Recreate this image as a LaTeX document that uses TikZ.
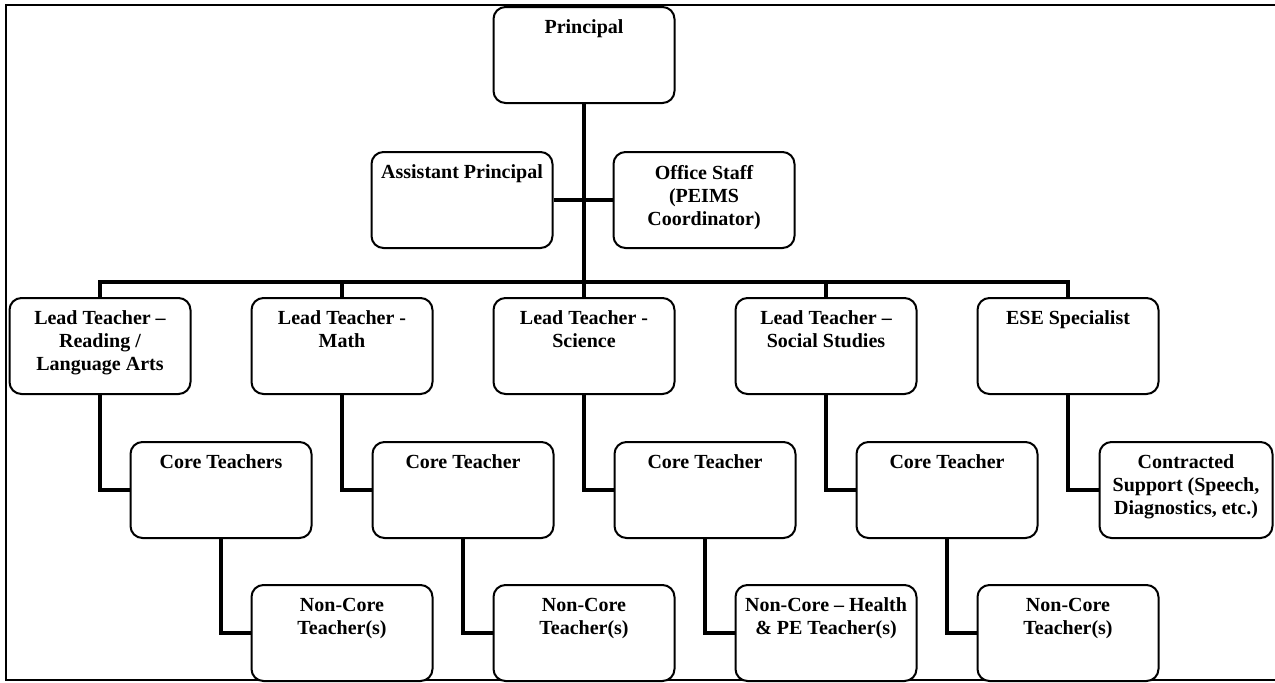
\documentclass[tikz,border=0pt]{standalone}
\usepackage{fontspec}
\setmainfont{Liberation Serif}
\usepackage{tikz}

% text set at the top of a box
\newcommand{\orgtext}[2][181]{\parbox[c][96pt][t]{\dimexpr#1pt-12pt\relax}{\centering\vspace*{13pt}#2}}

\begin{document}
\begin{tikzpicture}[x=1pt, y=-1pt,
  orgbox/.style={draw, line width=2pt, rounded corners=12pt, fill=white, inner xsep=6pt, inner ysep=0pt,
    minimum width=181pt, font=\fontsize{20}{23}\selectfont\bfseries},
  conn/.style={line width=4pt},
  frameline/.style={line width=1.5pt}]
\useasboundingbox (0,0) rectangle (1275,683);
\draw[frameline] (1275,5) -- (6,5) -- (6,680) -- (1275,680);

\node[orgbox] (prin) at (584,55) {\orgtext{Principal}};
\node[orgbox] (asst) at (462,200) {\orgtext{Assistant Principal}};
\node[orgbox] (office) at (704,200) {\orgtext{Office Staff\\(PEIMS\\Coordinator)}};

\node[orgbox] (lread) at (100,346) {\orgtext{Lead Teacher --\\Reading /\\Language Arts}};
\node[orgbox] (lmath) at (342,346) {\orgtext{Lead Teacher -\\Math}};
\node[orgbox] (lsci) at (584,346) {\orgtext{Lead Teacher -\\Science}};
\node[orgbox] (lsoc) at (826,346) {\orgtext{Lead Teacher --\\Social Studies}};
\node[orgbox] (lese) at (1068,346) {\orgtext{ESE Specialist}};

\node[orgbox] (core1) at (221,490) {\orgtext{Core Teachers}};
\node[orgbox] (core2) at (463,490) {\orgtext{Core Teacher}};
\node[orgbox] (core3) at (705,490) {\orgtext{Core Teacher}};
\node[orgbox] (core4) at (947,490) {\orgtext{Core Teacher}};
\node[orgbox, minimum width=173pt] (contract) at (1186,490) {\orgtext[173]{Contracted\\Support (Speech,\\Diagnostics, etc.)}};

\node[orgbox] (non1) at (342,633) {\orgtext{Non-Core\\Teacher(s)}};
\node[orgbox] (non2) at (584,633) {\orgtext{Non-Core\\Teacher(s)}};
\node[orgbox] (non3) at (826,633) {\orgtext{Non-Core -- Health\\\& PE Teacher(s)}};
\node[orgbox] (non4) at (1068,633) {\orgtext{Non-Core\\Teacher(s)}};

\coordinate (bus) at (584,282);
\draw[conn] (prin.south) -- (lsci.north);
\draw[conn] (asst.east) -- (office.west);
\draw[conn] (lread.north) |- (bus) -| (lese.north);
\draw[conn] (lmath.north) -- (lmath.north |- bus);
\draw[conn] (lsoc.north) -- (lsoc.north |- bus);

\draw[conn] (lread.south) |- (core1.west);
\draw[conn] (lmath.south) |- (core2.west);
\draw[conn] (lsci.south) |- (core3.west);
\draw[conn] (lsoc.south) |- (core4.west);
\draw[conn] (lese.south) |- (contract.west);

\draw[conn] (core1.south) |- (non1.west);
\draw[conn] (core2.south) |- (non2.west);
\draw[conn] (core3.south) |- (non3.west);
\draw[conn] (core4.south) |- (non4.west);
\end{tikzpicture}
\end{document}
